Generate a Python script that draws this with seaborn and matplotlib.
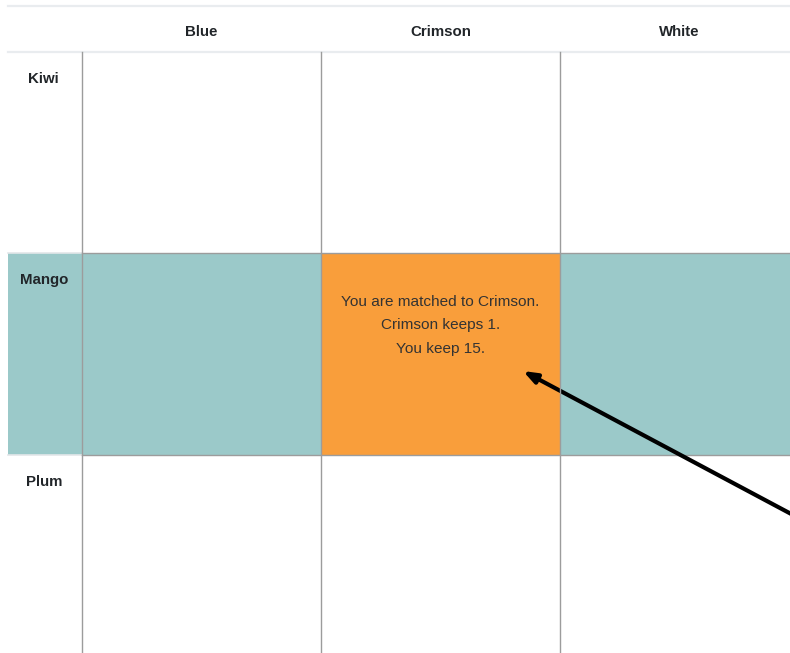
import matplotlib
matplotlib.use('Agg')
import matplotlib.pyplot as plt
import numpy as np
import pandas as pd
import seaborn as sns
from matplotlib.colors import ListedColormap

# Grid contents
columns = ['Blue', 'Crimson', 'White']
rows = ['Kiwi', 'Mango', 'Plum']
matched_row = 'Mango'
matched_col = 'Crimson'
cell_lines = ['You are matched to Crimson.', 'Crimson keeps 1.', 'You keep 15.']

teal = '#9bc9c9'
orange = '#f99e3b'
grid_gray = '#9c9c9c'
rule_gray = '#e9ecef'
text_dark = '#212529'

# 0 = empty, 1 = matched row, 2 = matched cell
state = pd.DataFrame(0, index=rows, columns=columns)
state.loc[matched_row, :] = 1
state.loc[matched_row, matched_col] = 2

# figure in pixels: 790 x 653, column 239 px, row 201.5 px
W, H = 790, 653
col_w, row_h = 239.0, 201.5
x0_px, y0_px = 82, 52     # top-left corner of the first data cell
left_px = 8               # left edge of the label column


def px_x(p):
    return (p - x0_px) / col_w


def px_y(p):
    return (p - y0_px) / row_h


fig = plt.figure(figsize=(W / 100, H / 100), dpi=100)
ax = fig.add_axes([0, 0, 1, 1])
sns.heatmap(state, cmap=ListedColormap(['white', teal, orange]), vmin=0, vmax=2,
            cbar=False, ax=ax, linewidths=0)
ax.set_xlim(px_x(0), px_x(W))
ax.set_ylim(px_y(H), px_y(0))
ax.axis('off')

xl = px_x(left_px)
xr = px_x(W)
mi = rows.index(matched_row)

# label column shading for the matched row
ax.barh(mi + 0.5, -xl, left=xl, height=1, color=teal, linewidth=0, zorder=1)

# rules above and below header
ax.plot([xl, xr], [px_y(6)] * 2, color=rule_gray, lw=1.6, zorder=3)
ax.plot([xl, xr], [0, 0], color=rule_gray, lw=1.6, zorder=3)

# horizontal borders around the matched row
for yb in [mi, mi + 1]:
    ax.plot([xl, 0], [yb, yb], color='#e3e6e9', lw=1.2, zorder=3)
    ax.plot([0, xr], [yb, yb], color=grid_gray, lw=1.0, zorder=3)

# vertical borders
for j in range(len(columns)):
    ax.plot([j, j], [0, len(rows)], color=grid_gray, lw=1.0, zorder=4)

# header labels
for j, c in enumerate(columns):
    ax.text(j + 0.5, px_y(36), c, ha='center', va='baseline',
            fontsize=10.8, fontweight='bold', color=text_dark,
            family=['Liberation Sans', 'DejaVu Sans'])

# row labels
for i, r in enumerate(rows):
    ax.text((xl + 0) / 2 - 0.005, i + 31 / row_h, r, ha='center', va='baseline',
            fontsize=10.8, fontweight='bold', color=text_dark,
            family=['Liberation Sans', 'DejaVu Sans'])

# text in the matched cell
cj = columns.index(matched_col)
for k, line in enumerate(cell_lines):
    ax.text(cj + 0.5, px_y(306 + 23.5 * k), line, ha='center', va='baseline',
            fontsize=11.1, color='#333333',
            family=['Liberation Sans', 'DejaVu Sans'])

# arrow pointing into the matched cell
tip = (px_x(523), px_y(371))
tail = (px_x(840), px_y(540))
ax.annotate('', xy=tip, xytext=tail, annotation_clip=False,
            arrowprops=dict(arrowstyle='-|>,head_length=0.8,head_width=0.3',
                            color='black', lw=3, shrinkA=0, shrinkB=0))

fig.savefig('out.png', dpi=100)
